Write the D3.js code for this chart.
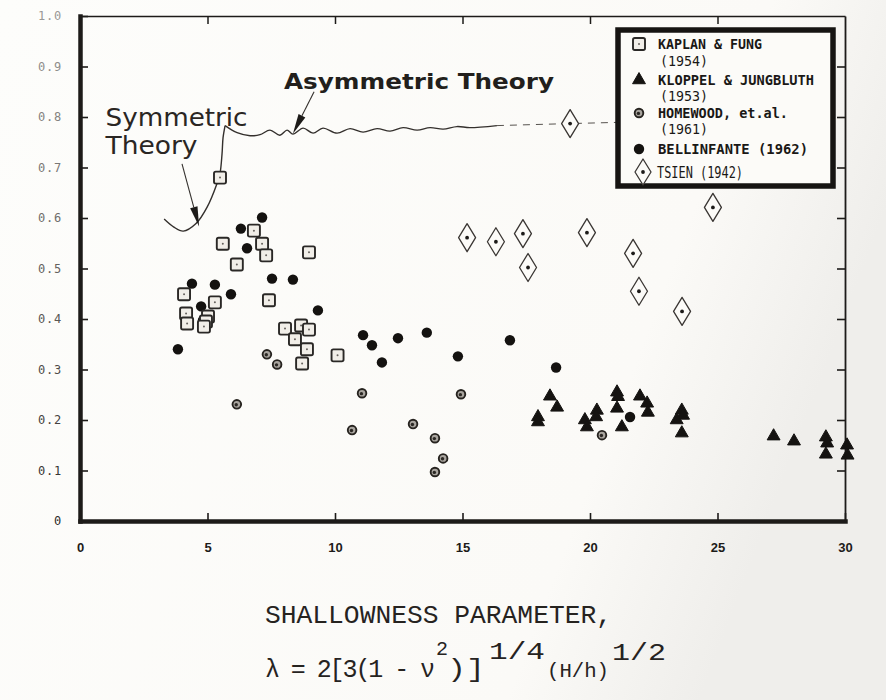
<!DOCTYPE html>
<html>
<head>
<meta charset="utf-8">
<script src="https://cdn.jsdelivr.net/npm/d3@7"></script>
<style>
  html, body { margin: 0; padding: 0; background: #fcfbf8; }
  svg { display: block; }
</style>
</head>
<body>
<svg id="chart" width="886" height="700"></svg>
<script>
// ---- Axis ticks -------------------------------------------------------
const xTicks = [0, 5, 10, 15, 20, 25, 30];
const xTickLabels = ["0", "5", "10", "15", "20", "25", "30"];
const yTicks = [0, 0.1, 0.2, 0.3, 0.4, 0.5, 0.6, 0.7, 0.8, 0.9, 1.0];
const yTickLabels = ["0", "0.1", "0.2", "0.3", "0.4", "0.5", "0.6", "0.7", "0.8", "0.9", "1.0"];

// ---- Test data: [shallowness parameter λ, buckling coefficient] ------
const kaplanFung = [
  [5.49, 0.680], [6.82, 0.575], [5.60, 0.549], [7.14, 0.549], [7.30, 0.526],
  [6.15, 0.508], [8.98, 0.532], [4.08, 0.449], [5.29, 0.433], [7.41, 0.437],
  [4.16, 0.411], [4.20, 0.391], [5.02, 0.405], [4.94, 0.395], [4.86, 0.385],
  [8.04, 0.381], [8.67, 0.387], [8.98, 0.379], [8.43, 0.360], [8.90, 0.340],
  [8.71, 0.312], [10.10, 0.328]
];
const kloppelJungbluth = [
  [17.96, 0.206], [17.96, 0.196], [18.43, 0.247], [18.71, 0.225], [19.80, 0.200],
  [19.88, 0.186], [20.27, 0.219], [20.24, 0.206], [21.06, 0.255], [21.10, 0.246],
  [21.06, 0.223], [21.25, 0.186], [21.96, 0.247], [22.24, 0.233], [22.27, 0.215],
  [23.60, 0.219], [23.65, 0.209], [23.40, 0.200], [23.60, 0.174], [27.20, 0.168],
  [28.00, 0.158], [29.25, 0.166], [29.30, 0.154], [29.25, 0.132], [30.08, 0.150],
  [30.10, 0.130]
];
const homewood = [
  [7.33, 0.330], [7.73, 0.310], [6.15, 0.231], [11.06, 0.253], [14.94, 0.251],
  [10.67, 0.180], [13.06, 0.192], [13.92, 0.164], [14.24, 0.124], [13.92, 0.097],
  [20.47, 0.170]
];
const bellinfante = [
  [7.14, 0.601], [6.31, 0.579], [6.55, 0.540], [4.39, 0.470], [5.29, 0.468],
  [5.92, 0.449], [7.53, 0.480], [8.35, 0.478], [4.75, 0.425], [4.82, 0.397],
  [9.33, 0.417], [3.84, 0.340], [11.10, 0.368], [11.45, 0.348], [11.84, 0.314],
  [12.47, 0.362], [13.60, 0.373], [14.82, 0.326], [16.86, 0.358], [18.67, 0.304],
  [21.57, 0.206]
];
const tsien = [
  [19.22, 0.787], [15.18, 0.561], [16.31, 0.553], [17.37, 0.569], [17.57, 0.502],
  [19.88, 0.571], [21.69, 0.530], [21.92, 0.455], [23.61, 0.415], [24.82, 0.621]
];

// ---- Theory curves ----------------------------------------------------
const symmetricTheory = [
  [3.30, 0.598], [3.68, 0.582], [4.05, 0.574], [4.55, 0.589], [4.98, 0.621],
  [5.37, 0.668], [5.49, 0.688], [5.57, 0.727], [5.61, 0.759], [5.69, 0.783]
];
const asymmetricTheory = [
  [5.69, 0.783], [6.16, 0.769], [6.67, 0.763], [7.06, 0.765], [7.45, 0.774],
  [7.84, 0.764], [8.12, 0.774], [8.35, 0.766], [8.75, 0.778], [9.14, 0.768],
  [9.53, 0.778], [10.08, 0.768], [10.59, 0.777], [11.10, 0.770], [11.65, 0.777],
  [12.16, 0.772], [12.67, 0.779], [13.22, 0.774], [13.73, 0.779], [14.24, 0.776],
  [14.78, 0.781], [15.29, 0.779], [16.35, 0.783]
];
const asymmetricExtension = [[16.35, 0.783], [19.22, 0.787], [21.6, 0.790]];

// ---- Legend entries ---------------------------------------------------
const legendNames = ["KAPLAN & FUNG", "KLOPPEL & JUNGBLUTH", "HOMEWOOD, et.al.", "BELLINFANTE (1962)", "TSIEN (1942)"];
const legendYears = ["(1954)", "(1953)", "(1961)", "", ""];

// ---- Setup ------------------------------------------------------------
const svg = d3.select("#chart");
const ink = "#1d1b19";
const paper = "#fcfbf8";

const defs = svg.append("defs");
const grad = defs.append("linearGradient").attr("id", "paper").attr("x1", 0).attr("x2", 1).attr("y1", 0).attr("y2", 0.3);
grad.append("stop").attr("offset", "0%").attr("stop-color", "#fdfdfb");
grad.append("stop").attr("offset", "80%").attr("stop-color", "#fbfaf7");
grad.append("stop").attr("offset", "100%").attr("stop-color", "#efeeeb");
svg.append("rect").attr("width", 886).attr("height", 700).attr("fill", "url(#paper)");

const x = d3.scaleLinear().domain([0, 30]).range([80, 845]);
const y = d3.scaleLinear().domain([0, 1]).range([521, 16]);
const labelShade = d3.scaleLinear().domain([0, 1]).range(["#2e2c2a", "#9a9896"]);

// ---- Frame and axes ---------------------------------------------------
const gTop = svg.append("g").attr("transform", `translate(0,${y(1)})`)
  .call(d3.axisTop(x).tickValues(xTicks.slice(1, -1)).tickSizeInner(-8).tickSizeOuter(0).tickFormat(""));
gTop.select(".domain").attr("stroke", ink).attr("stroke-width", 1.6);
gTop.selectAll(".tick line").attr("stroke", ink).attr("stroke-width", 1.5);

const gRight = svg.append("g").attr("transform", `translate(${x(30)},0)`)
  .call(d3.axisRight(y).tickValues(yTicks.slice(1, -1)).tickSizeInner(-8).tickSizeOuter(0).tickFormat(""));
gRight.select(".domain").attr("stroke", ink).attr("stroke-width", 1.8);
gRight.selectAll(".tick line").attr("stroke", ink).attr("stroke-width", 1.6);

const gLeft = svg.append("g").attr("transform", `translate(${x(0)},0)`)
  .call(d3.axisLeft(y).tickValues(yTicks).tickSizeInner(-8).tickSizeOuter(0).tickPadding(18)
    .tickFormat((d, i) => yTickLabels[i]));
gLeft.select(".domain").attr("stroke", ink).attr("stroke-width", 4.5).attr("stroke-linecap", "square");
gLeft.selectAll(".tick line").attr("stroke", ink).attr("stroke-width", 1.6);
gLeft.selectAll(".tick text")
  .attr("font-family", "DejaVu Sans Mono, monospace").attr("font-size", 12)
  .attr("letter-spacing", 0.8).attr("fill", d => labelShade(d));

const gBottom = svg.append("g").attr("transform", `translate(0,${y(0)})`)
  .call(d3.axisBottom(x).tickValues(xTicks).tickSizeInner(-8).tickSizeOuter(0).tickPadding(22)
    .tickFormat((d, i) => xTickLabels[i]));
gBottom.select(".domain").attr("stroke", ink).attr("stroke-width", 4.5).attr("stroke-linecap", "square");
gBottom.selectAll(".tick line").attr("stroke", ink).attr("stroke-width", 1.6);
gBottom.selectAll(".tick text")
  .attr("font-family", "Liberation Sans, Arial, sans-serif").attr("font-weight", "bold")
  .attr("font-size", 13).attr("fill", ink);

// ---- Theory curves ----------------------------------------------------
const line = d3.line().x(d => x(d[0])).y(d => y(d[1])).curve(d3.curveCatmullRom.alpha(0.5));
const curves = svg.append("g").attr("fill", "none").attr("stroke", "#34302d");
curves.append("path").datum(symmetricTheory).attr("d", line).attr("stroke-width", 1.4);
curves.append("path").datum(asymmetricTheory).attr("d", line).attr("stroke-width", 1.4);
curves.append("path").datum(asymmetricExtension)
  .attr("d", d3.line().x(d => x(d[0])).y(d => y(d[1])))
  .attr("stroke-width", 1).attr("stroke-dasharray", "7,6").attr("stroke", "#57534f");

// ---- Annotations ------------------------------------------------------
function arrow(g, from, to) {
  const x0 = x(from[0]), y0 = y(from[1]), x1 = x(to[0]), y1 = y(to[1]);
  const a = Math.atan2(y1 - y0, x1 - x0);
  const len = 20, half = 3.8;
  const bx = x1 - len * Math.cos(a), by = y1 - len * Math.sin(a);
  g.append("line").attr("x1", x0).attr("y1", y0).attr("x2", bx).attr("y2", by)
    .attr("stroke", "#34302d").attr("stroke-width", 1.1);
  g.append("path")
    .attr("d", `M${x1},${y1}L${bx + half * Math.sin(a)},${by - half * Math.cos(a)}L${bx - half * Math.sin(a)},${by + half * Math.cos(a)}Z`)
    .attr("fill", "#1d1b19");
}
const notes = svg.append("g");
arrow(notes, [4.0, 0.707], [4.67, 0.583]);
arrow(notes, [9.18, 0.850], [8.35, 0.767]);

notes.append("text").attr("x", x(1.0)).attr("y", y(0.783)).text("Symmetric")
  .attr("font-family", "DejaVu Sans, sans-serif").attr("font-size", 24)
  .attr("textLength", 142).attr("lengthAdjust", "spacingAndGlyphs").attr("fill", "#2a2623");
notes.append("text").attr("x", x(1.0)).attr("y", y(0.727)).text("Theory")
  .attr("font-family", "DejaVu Sans, sans-serif").attr("font-size", 24)
  .attr("textLength", 92).attr("lengthAdjust", "spacingAndGlyphs").attr("fill", "#2a2623");
notes.append("text").attr("x", x(8.0)).attr("y", y(0.856)).text("Asymmetric Theory")
  .attr("font-family", "DejaVu Sans, sans-serif").attr("font-weight", "bold").attr("font-size", 21)
  .attr("textLength", 270).attr("lengthAdjust", "spacingAndGlyphs").attr("fill", "#221f1c");

// ---- Markers ----------------------------------------------------------
function drawSquare(g, cx, cy) {
  g.append("rect").attr("x", cx - 6).attr("y", cy - 6).attr("width", 12).attr("height", 12).attr("rx", 1.8)
    .attr("fill", "#f1eee8").attr("stroke", "#2a2826").attr("stroke-width", 1.9);
  g.append("circle").attr("cx", cx).attr("cy", cy).attr("r", 1).attr("fill", "#66625e");
}
function drawTriangle(g, cx, cy) {
  g.append("path").attr("transform", `translate(${cx},${cy})`)
    .attr("d", d3.symbol(d3.symbolTriangle, 72)())
    .attr("fill", "#151311").attr("stroke", "#151311").attr("stroke-width", 1).attr("stroke-linejoin", "round");
}
function drawHomewood(g, cx, cy) {
  g.append("circle").attr("cx", cx).attr("cy", cy).attr("r", 4.3)
    .attr("fill", "#a9a59f").attr("stroke", "#26231f").attr("stroke-width", 1.9);
  g.append("circle").attr("cx", cx - 0.6).attr("cy", cy + 0.4).attr("r", 1.7).attr("fill", "#2b2824");
}
function drawDot(g, cx, cy) {
  g.append("circle").attr("cx", cx).attr("cy", cy).attr("r", 5.2).attr("fill", "#141210");
}
function drawDiamond(g, cx, cy, w = 8.5, h = 14) {
  g.append("path").attr("d", `M${cx},${cy - h}Q${cx + w * 0.55},${cy - h * 0.45} ${cx + w},${cy}Q${cx + w * 0.55},${cy + h * 0.45} ${cx},${cy + h}Q${cx - w * 0.55},${cy + h * 0.45} ${cx - w},${cy}Q${cx - w * 0.55},${cy - h * 0.45} ${cx},${cy - h}Z`)
    .attr("fill", paper).attr("stroke", "#3a3633").attr("stroke-width", 1.3).attr("stroke-linejoin", "round");
  g.append("circle").attr("cx", cx).attr("cy", cy).attr("r", 1.9).attr("fill", "#1d1b19");
}

const pts = svg.append("g");
tsien.forEach(d => drawDiamond(pts, x(d[0]), y(d[1])));
homewood.forEach(d => drawHomewood(pts, x(d[0]), y(d[1])));
bellinfante.forEach(d => drawDot(pts, x(d[0]), y(d[1])));
kaplanFung.forEach(d => drawSquare(pts, x(d[0]), y(d[1])));
kloppelJungbluth.forEach(d => drawTriangle(pts, x(d[0]), y(d[1])));

// ---- Legend -----------------------------------------------------------
const lg = svg.append("g");
lg.append("rect").attr("x", 618).attr("y", 30).attr("width", 215).attr("height", 156)
  .attr("fill", paper).attr("stroke", "#161412").attr("stroke-width", 5.5);

const legendFont = "DejaVu Sans Mono, monospace";
const legendRows = [
  { sym: drawSquare,   sy: 44,  ny: 49,  yy: 66,  w: 104 },
  { sym: drawTriangle, sy: 80,  ny: 85,  yy: 101, w: 156 },
  { sym: drawHomewood, sy: 113, ny: 118, yy: 134, w: 130 },
  { sym: drawDot,      sy: 149, ny: 154, yy: 0,   w: 150 },
];
legendRows.forEach((r, i) => {
  r.sym(lg, 639, r.sy);
  lg.append("text").attr("x", 658).attr("y", r.ny).text(legendNames[i])
    .attr("font-family", legendFont).attr("font-weight", "bold").attr("font-size", 14.5)
    .attr("textLength", r.w).attr("lengthAdjust", "spacingAndGlyphs").attr("fill", "#1a1816");
  if (legendYears[i]) {
    lg.append("text").attr("x", 660).attr("y", r.yy).text(legendYears[i])
      .attr("font-family", legendFont).attr("font-size", 14)
      .attr("textLength", 48).attr("lengthAdjust", "spacingAndGlyphs").attr("fill", "#1a1816");
  }
});
drawDiamond(lg, 643, 172, 8, 13);
lg.append("text").attr("x", 657).attr("y", 178).text(legendNames[4])
  .attr("font-family", legendFont).attr("font-size", 15)
  .attr("textLength", 86).attr("lengthAdjust", "spacingAndGlyphs").attr("fill", "#1a1816");

// ---- Axis title -------------------------------------------------------
const mono = "Liberation Mono, Courier New, monospace";
const title = svg.append("g").attr("fill", "#26231f").attr("font-family", mono);
title.append("text").attr("x", 265).attr("y", 623).text("SHALLOWNESS PARAMETER,")
  .attr("font-size", 25).attr("textLength", 347).attr("lengthAdjust", "spacingAndGlyphs");
title.append("text").attr("x", 265).attr("y", 677).text("λ = 2[3(1 - ν")
  .attr("font-size", 25).attr("textLength", 170).attr("lengthAdjust", "spacing");
title.append("text").attr("x", 436).attr("y", 655).text("2").attr("font-size", 20);
title.append("text").attr("x", 447).attr("y", 677).text(")]")
  .attr("font-size", 25).attr("textLength", 38).attr("lengthAdjust", "spacingAndGlyphs");
title.append("text").attr("x", 489).attr("y", 659).text("1/4")
  .attr("font-size", 24).attr("textLength", 56).attr("lengthAdjust", "spacingAndGlyphs");
title.append("text").attr("x", 547).attr("y", 677).text("(H/h)")
  .attr("font-size", 20).attr("textLength", 62).attr("lengthAdjust", "spacingAndGlyphs");
title.append("text").attr("x", 612).attr("y", 660).text("1/2")
  .attr("font-size", 24).attr("textLength", 54).attr("lengthAdjust", "spacingAndGlyphs");
</script>
</body>
</html>
